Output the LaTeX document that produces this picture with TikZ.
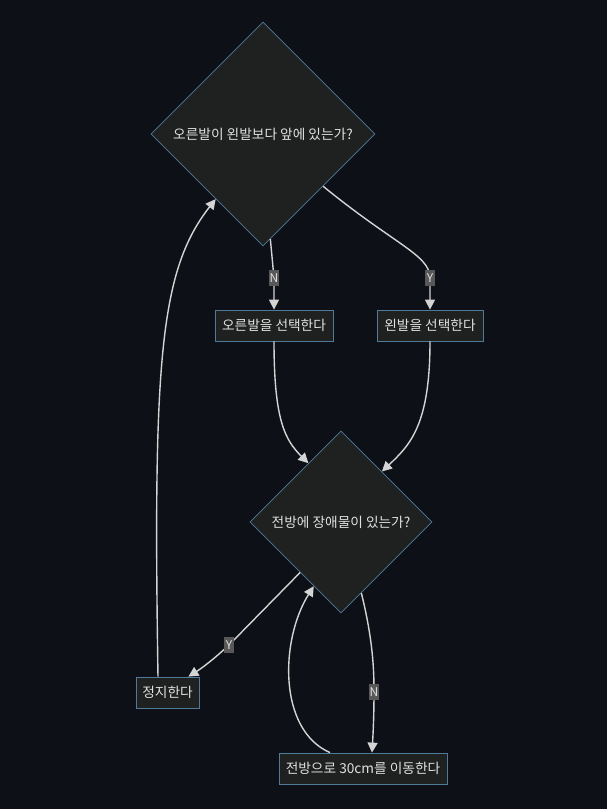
\documentclass[tikz,border=0pt]{standalone}
\usepackage{fontspec}
\setmainfont{Noto Sans CJK KR}
\usetikzlibrary{shapes.geometric,arrows.meta}
\definecolor{bgdark}{HTML}{0D1117}
\definecolor{nodefill}{HTML}{1F2020}
\definecolor{nodeline}{HTML}{4F7A9A}
\definecolor{edgegray}{HTML}{D4D4D4}
\definecolor{lblfill}{HTML}{585858}
\definecolor{txtgray}{HTML}{E0E0E0}

\begin{document}
\begin{tikzpicture}[x=1pt, y=-1pt,
    decision/.style={diamond, draw=nodeline, fill=nodefill, line width=0.8pt,
        inner sep=0pt, aspect=1, text=txtgray, font=\fontsize{13.7}{16}\selectfont},
    action/.style={rectangle, draw=nodeline, fill=nodefill, line width=0.8pt,
        minimum height=31pt, inner sep=0pt, text=txtgray, font=\fontsize{13.7}{16}\selectfont},
    arr/.style={draw=edgegray, line width=1.4pt, -{Triangle[length=10pt, width=10pt]}},
    lbl/.style={fill=lblfill, text=txtgray, inner sep=1pt, minimum width=10pt,
        minimum height=16pt, font=\fontsize{12}{14}\selectfont}]
    \fill[bgdark] (0,0) rectangle (607,809);
    \useasboundingbox (0,0) rectangle (607,809);

    % nodes
    \node[decision, minimum size=224pt] (front) at (263,134) {오른발이 왼발보다 앞에 있는가?};
    \node[action, minimum width=118pt] (right) at (274,325.5) {오른발을 선택한다};
    \node[action, minimum width=106pt] (left) at (430,325.5) {왼발을 선택한다};
    \node[decision, minimum size=182pt] (block) at (341,522) {전방에 장애물이 있는가?};
    \node[action, minimum width=63pt] (stop) at (167.5,692.5) {정지한다};
    \node[action, minimum width=168pt] (move) at (363,768.5) {전방으로 30cm를 이동한다};

    % connectors
    \draw[arr] (front.-86) .. controls (272,258) .. (274,278) node[lbl] {N} -- (right.north);
    \draw[arr] (front.-41) .. controls (395,245) and (430,255) .. (430,278) node[lbl] {Y} -- (left.north);
    \draw[arr] (right.south) .. controls (274,420) and (285,440) .. (block.119);
    \draw[arr] (left.south) .. controls (430,425) and (410,445) .. (block.51);
    \draw[arr] (block.-129) -- (229,645) node[lbl] {Y} .. controls (214,659) and (202,668) .. ([xshift=-11pt]stop.north east);
    \draw[arr] ([xshift=-9.5pt]stop.north) .. controls (153,360) and (160,270) .. (front.-126);
    \draw[arr] (block.-74) .. controls (373,640) and (374,670) .. (374,692) node[lbl] {N} .. controls (374,718) and (373,735) .. ([xshift=9pt]move.north);
    \draw[arr] ([xshift=-33pt]move.north) .. controls (278,730) and (280,640) .. (block.-113);
\end{tikzpicture}
\end{document}
